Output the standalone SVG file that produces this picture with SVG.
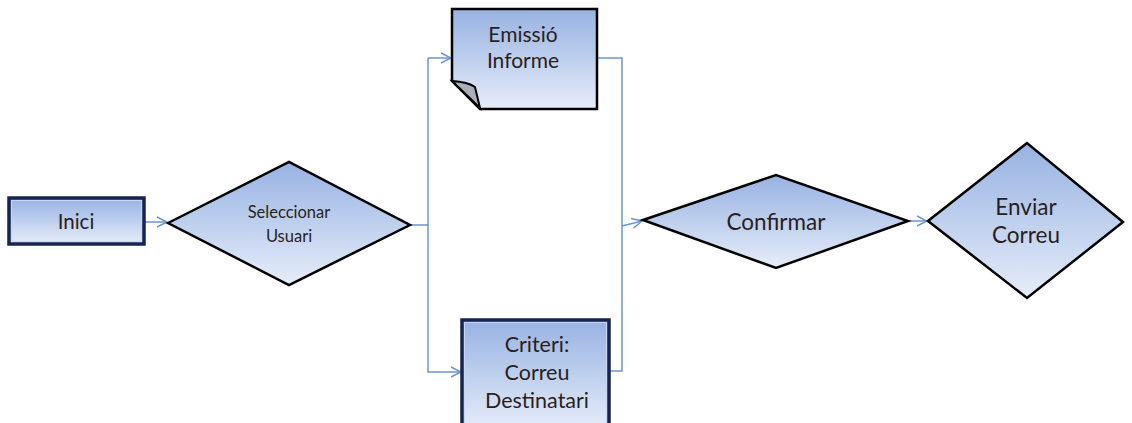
<svg xmlns="http://www.w3.org/2000/svg" width="1132" height="423" viewBox="0 0 1132 423">
  <defs>
    <linearGradient id="fillGrad" x1="0" y1="0" x2="0" y2="1">
      <stop offset="0" stop-color="#97b2e2"/>
      <stop offset="1" stop-color="#e6edf9"/>
    </linearGradient>
    <marker id="arrow" viewBox="0 0 12 12" refX="11" refY="6" markerWidth="12" markerHeight="12" markerUnits="userSpaceOnUse" orient="auto">
      <path d="M1,1 L11,6 L1,11" fill="none" stroke="#6b95d2" stroke-width="1.5"/>
    </marker>
    <style>
      .shape { fill: url(#fillGrad); stroke: #000; stroke-width: 2.5; stroke-linejoin: miter; }
      .box { fill: url(#fillGrad); stroke: #16254f; stroke-width: 3.5; }
      .inner { fill: none; stroke: #c9d6ef; stroke-width: 1; }
      .label { font-family: Lato, "Open Sans", sans-serif; fill: #2a1e1e; text-anchor: middle; }
      .conn { fill: none; stroke: #6b95d2; stroke-width: 1.5; }
    </style>
  </defs>

  <!-- connectors -->
  <g id="connectors">
    <path class="conn" d="M144,222 H167" marker-end="url(#arrow)"/>
    <path class="conn" d="M410,225 H428 V58"/>
    <path class="conn" d="M428,58 H451" marker-end="url(#arrow)"/>
    <path class="conn" d="M428,225 V372 H461" marker-end="url(#arrow)"/>
    <path class="conn" d="M597,58 H622 V371 H609"/>
    <path class="conn" d="M622,226 L642,221" marker-end="url(#arrow)"/>
    <path class="conn" d="M908,221 H927" marker-end="url(#arrow)"/>
  </g>

  <g id="inici">
    <rect class="box" x="9" y="198" width="135" height="46"/>
    <rect class="inner" x="11.5" y="200.5" width="130" height="41"/>
    <text class="label" x="76" y="229" font-size="20.5">Inici</text>
  </g>

  <g id="seleccionar-usuari">
    <polygon class="shape" points="168,223 289,162 410,225 289,285"/>
    <text class="label" x="289" y="218" font-size="16.5">Seleccionar</text>
    <text class="label" x="289" y="242" font-size="16.5">Usuari</text>
  </g>

  <g id="emissio-informe">
    <path class="shape" d="M452,9 H597 V109 H480 L452,81 Z"/>
    <path d="M452,81 Q468,82 475,87 L480,108 Z" fill="#a8aebb" stroke="#000" stroke-width="2"/>
    <text class="label" x="523" y="42" font-size="21">Emissió</text>
    <text class="label" x="523" y="68" font-size="21">Informe</text>
  </g>

  <g id="criteri-correu">
    <rect class="box" x="462" y="320" width="147" height="110"/>
    <rect class="inner" x="464.5" y="322.5" width="142" height="105"/>
    <text class="label" x="537" y="352" font-size="21.5">Criteri:</text>
    <text class="label" x="537" y="380" font-size="21.5">Correu</text>
    <text class="label" x="537" y="408" font-size="21.5">Destinatari</text>
  </g>

  <g id="confirmar">
    <polygon class="shape" points="643,220 776,175 908,221 776,268"/>
    <text class="label" x="776" y="230" font-size="22.5">Confirmar</text>
  </g>

  <g id="enviar-correu">
    <polygon class="shape" points="928,221 1027,143 1123,222 1027,298"/>
    <text class="label" x="1026" y="215" font-size="22.5">Enviar</text>
    <text class="label" x="1026" y="243" font-size="22.5">Correu</text>
  </g>
</svg>
